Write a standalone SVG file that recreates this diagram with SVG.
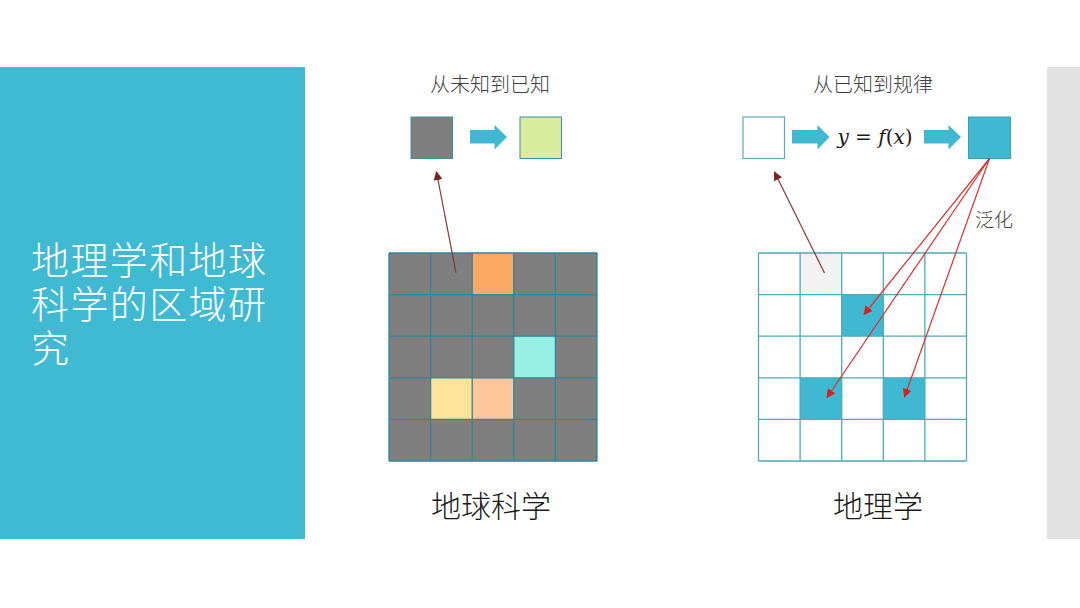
<svg xmlns="http://www.w3.org/2000/svg" width="1080" height="608" viewBox="0 0 1080 608">
<defs>
<style>
.cjk{font-family:"Noto Sans CJK SC","Noto Sans",sans-serif;font-weight:300}
.lc{stroke:#31859C;stroke-width:1.3}
.rc{stroke:#4EA9B8;stroke-width:1.3}
.blk{fill:#40B8D2}
.red{stroke:#DE2E2E;stroke-width:1.2;fill:none}
.dred{stroke:#8A3535;stroke-width:1.2;fill:none}
</style>
<marker id="mr" viewBox="0 0 10 10" refX="9" refY="5" markerWidth="9" markerHeight="9" markerUnits="userSpaceOnUse" orient="auto"><path d="M0,0 L10,5 L0,10 z" fill="#D42020"/></marker>
<marker id="md" viewBox="0 0 10 10" refX="9" refY="5" markerWidth="9" markerHeight="9" markerUnits="userSpaceOnUse" orient="auto"><path d="M0,0 L10,5 L0,10 z" fill="#7A2424"/></marker>
</defs>
<rect width="1080" height="608" fill="#FFFFFF"/>
<g id="side-left">
<rect x="0" y="67" width="305" height="472" fill="#40B9D2"/>
<text class="cjk" x="31" y="274" font-size="38" letter-spacing="1.4" fill="#FFFFFF">地理学和地球</text>
<text class="cjk" x="31" y="318" font-size="38" letter-spacing="1.4" fill="#FFFFFF">科学的区域研</text>
<text class="cjk" x="31" y="362" font-size="38" letter-spacing="1.4" fill="#FFFFFF">究</text>
</g>
<g id="side-right"><rect x="1047" y="67" width="33" height="472" fill="#E2E2E2"/></g>

<g id="grid-earth">
<rect x="389" y="253" width="208" height="208" fill="#7F7F7F"/>
<rect x="472.2" y="253" width="41.6" height="41.6" fill="#FAA862"/>
<rect x="513.8" y="336.2" width="41.6" height="41.6" fill="#96F0E3"/>
<rect x="430.6" y="377.8" width="41.6" height="41.6" fill="#FEE499"/>
<rect x="472.2" y="377.8" width="41.6" height="41.6" fill="#FDC69B"/>
<g class="lc">
<line x1="389" y1="253" x2="597" y2="253"/><line x1="389" y1="294.6" x2="597" y2="294.6"/><line x1="389" y1="336.2" x2="597" y2="336.2"/><line x1="389" y1="377.8" x2="597" y2="377.8"/><line x1="389" y1="419.4" x2="597" y2="419.4"/><line x1="389" y1="461" x2="597" y2="461"/>
<line x1="389" y1="253" x2="389" y2="461"/><line x1="430.6" y1="253" x2="430.6" y2="461"/><line x1="472.2" y1="253" x2="472.2" y2="461"/><line x1="513.8" y1="253" x2="513.8" y2="461"/><line x1="555.4" y1="253" x2="555.4" y2="461"/><line x1="597" y1="253" x2="597" y2="461"/>
</g>
<text class="cjk" x="491" y="517" font-size="30" fill="#1A1A1A" text-anchor="middle">地球科学</text>
</g>

<g id="grid-geo">
<rect x="758.5" y="253" width="208" height="208" fill="#FFFFFF"/>
<rect x="800.1" y="253" width="41.6" height="41.6" fill="#F2F2F2"/>
<rect x="841.7" y="294.6" width="41.6" height="41.6" fill="#40B8D2"/>
<rect x="800.1" y="377.8" width="41.6" height="41.6" fill="#40B8D2"/>
<rect x="883.3" y="377.8" width="41.6" height="41.6" fill="#40B8D2"/>
<g class="rc">
<line x1="758.5" y1="253" x2="966.5" y2="253"/><line x1="758.5" y1="294.6" x2="966.5" y2="294.6"/><line x1="758.5" y1="336.2" x2="966.5" y2="336.2"/><line x1="758.5" y1="377.8" x2="966.5" y2="377.8"/><line x1="758.5" y1="419.4" x2="966.5" y2="419.4"/><line x1="758.5" y1="461" x2="966.5" y2="461"/>
<line x1="758.5" y1="253" x2="758.5" y2="461"/><line x1="800.1" y1="253" x2="800.1" y2="461"/><line x1="841.7" y1="253" x2="841.7" y2="461"/><line x1="883.3" y1="253" x2="883.3" y2="461"/><line x1="924.9" y1="253" x2="924.9" y2="461"/><line x1="966.5" y1="253" x2="966.5" y2="461"/>
</g>
<text class="cjk" x="878" y="517" font-size="30" fill="#1A1A1A" text-anchor="middle">地理学</text>
</g>

<g id="top-left">
<text class="cjk" x="490" y="92" font-size="20" fill="#404040" text-anchor="middle">从未知到已知</text>
<rect x="411" y="117" width="41.5" height="41.5" fill="#7F7F7F" stroke="#3B8FA0" stroke-width="1"/>
<polygon class="blk" points="470,130 494.5,130 494.5,125 507,137 494.5,149.5 494.5,143.5 470,143.5"/>
<rect x="520" y="117" width="41.5" height="41.5" fill="#D7EC9C" stroke="#3B8FA0" stroke-width="1"/>
</g>

<g id="top-right">
<text class="cjk" x="873" y="92" font-size="20" fill="#404040" text-anchor="middle">从已知到规律</text>
<rect x="743" y="117" width="41.5" height="41.5" fill="#FFFFFF" stroke="#5AAAB8" stroke-width="1.2"/>
<polygon class="blk" points="792,130 817.5,130 817.5,125 829.5,137 817.5,149.5 817.5,143.5 792,143.5"/>
<text x="875" y="144" font-size="20" fill="#1A1A1A" text-anchor="middle" font-family="'DejaVu Serif','Liberation Serif',serif"><tspan font-style="italic">y</tspan> = <tspan font-style="italic">f</tspan>(<tspan font-style="italic">x</tspan>)</text>
<polygon class="blk" points="924,130 948.5,130 948.5,125 961,137 948.5,149.5 948.5,143.5 924,143.5"/>
<rect x="968.5" y="117" width="42" height="41.5" fill="#40B8D2" stroke="#3B9FB5" stroke-width="1"/>
<text class="cjk" x="994" y="227" font-size="19" fill="#404040" text-anchor="middle">泛化</text>
</g>

<g id="connectors">
<line class="dred" x1="456" y1="273" x2="436.5" y2="172" marker-end="url(#md)"/>
<line class="dred" x1="824.5" y1="273" x2="774.5" y2="172" marker-end="url(#md)"/>
<line class="red" x1="989.5" y1="158.5" x2="864" y2="314.5" marker-end="url(#mr)"/>
<line class="red" x1="989.5" y1="158.5" x2="827" y2="397.5" marker-end="url(#mr)"/>
<line class="red" x1="989.5" y1="158.5" x2="904.5" y2="397" marker-end="url(#mr)"/>
</g>
</svg>
